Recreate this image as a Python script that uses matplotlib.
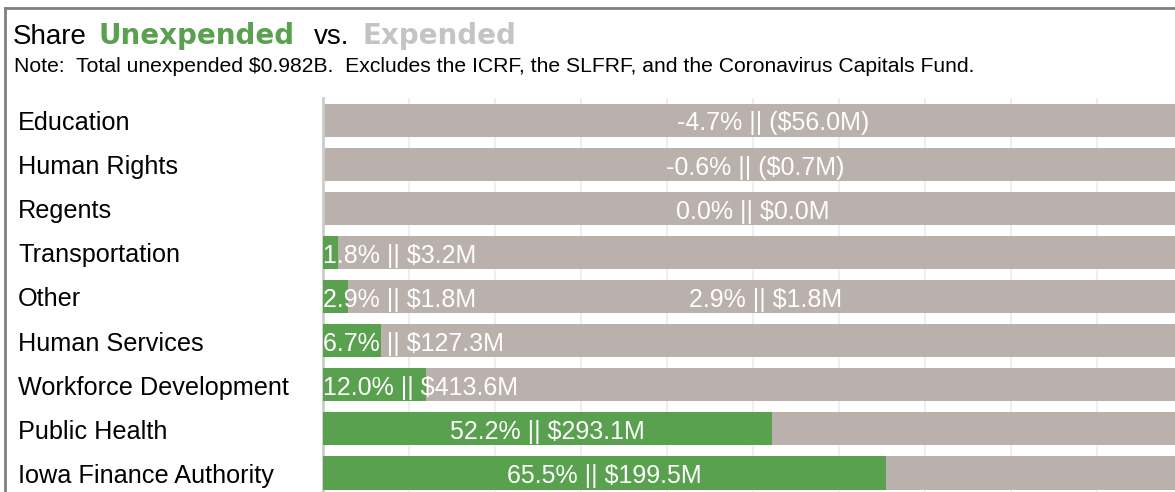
'''Share unexpended vs. expended by category.'''
import matplotlib
matplotlib.use('Agg')
from matplotlib import pyplot as plt
from matplotlib import transforms
from matplotlib.lines import Line2D

categories = ['Education', 'Human Rights', 'Regents', 'Transportation', 'Other',
              'Human Services', 'Workforce Development', 'Public Health',
              'Iowa Finance Authority']
pct_unexpended = [-4.7, -0.6, 0.0, 1.8, 2.9, 6.7, 12.0, 52.2, 65.5]
amount_millions = [-56.0, -0.7, 0.0, 3.2, 1.8, 127.3, 413.6, 293.1, 199.5]
# rows that also show the label in the middle of the grey part
repeated_label_rows = ['Other']

GREEN = '#59a14f'
GREY = '#bab0ac'
FONT = 'Liberation Sans'
W, H = 1175, 492

plt.rcParams['font.family'] = [FONT, 'DejaVu Sans']

fig = plt.figure(figsize=(W / 100, H / 100), dpi=100)
ax = fig.add_axes([323 / W, 0, 1 - 323 / W, 1 - 98 / H])


def fmt_label(pct, amount):
    money = f'(${abs(amount):.1f}M)' if amount < 0 else f'${amount:.1f}M'
    return f'{pct:.1f}% || {money}'


for i, (pct, amount) in enumerate(zip(pct_unexpended, amount_millions)):
    green = max(pct, 0)
    ax.barh(i, 100 - green + 10, left=green, height=0.75, color=GREY, zorder=2)
    if green > 0:
        ax.barh(i, green, height=0.75, color=GREEN, zorder=3)
    label = fmt_label(pct, amount)
    kw = dict(va='baseline', color='white', fontsize=18, zorder=4)
    y = i + 0.235
    if pct <= 0:
        ax.text((100 - pct) / 2, y, label, ha='center', **kw)
    elif pct < 20:
        ax.text(0.05, y, label, ha='left', **kw)
    else:
        ax.text(pct / 2, y, label, ha='center', **kw)
    if categories[i] in repeated_label_rows:
        ax.text((pct + 100) / 2, y, label, ha='center', **kw)

ax.set_xlim(0, 99.07)
ax.set_ylim(8.43, -0.5)
ax.set_xticks(range(10, 100, 10))
ax.grid(axis='x', color='#eeeeee', linewidth=1.5, zorder=0)
ax.set_axisbelow(True)
ax.tick_params(left=False, bottom=False, labelleft=False, labelbottom=False)
for side in ['top', 'right', 'bottom']:
    ax.spines[side].set_visible(False)
ax.spines['left'].set_color('#cccccc')
ax.spines['left'].set_linewidth(2)

# category names, left aligned near the frame
trans = transforms.blended_transform_factory(fig.transFigure, ax.transData)
for i, name in enumerate(categories):
    ax.text(18 / W, i + 0.225, name, transform=trans, ha='left', va='baseline',
            fontsize=18.2, color='black', clip_on=False)

# frame lines
fig.add_artist(Line2D([5 / W, 1], [1 - 8 / H, 1 - 8 / H], color='#808080',
                      linewidth=2, transform=fig.transFigure))
fig.add_artist(Line2D([5 / W, 5 / W], [0, 1 - 8 / H], color='#808080',
                      linewidth=2, transform=fig.transFigure))

# multi-coloured title: (text, colour, bold, gap after in px)
pieces = [('Share', 'black', False, 12), ('Unexpended', GREEN, True, 19),
          ('vs.', 'black', False, 13), ('Expended', '#c4c4c4', True, 0)]
renderer = fig.canvas.get_renderer()
x = 13
for text, color, bold, gap in pieces:
    if bold:
        t = fig.text(x / W, 1 - 44 / H, text, color=color, fontweight='bold',
                     family='DejaVu Sans', fontsize=20, ha='left', va='baseline')
    else:
        t = fig.text(x / W, 1 - 44 / H, text, color=color, fontsize=20,
                     ha='left', va='baseline')
    x += t.get_window_extent(renderer).width + gap

fig.text(14 / W, 1 - 72.5 / H,
         'Note:  Total unexpended $0.982B.  Excludes the ICRF, the SLFRF, '
         'and the Coronavirus Capitals Fund.',
         fontsize=15.2, color='black', ha='left', va='baseline')

fig.savefig('out.png', dpi=100)
